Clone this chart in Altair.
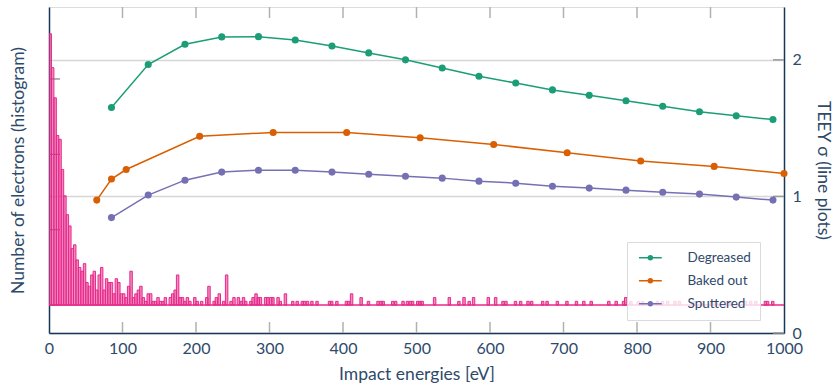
import altair as alt
import pandas as pd

# ---------------- data ----------------
BIN = 10 / 3  # histogram bin width (eV)

# dense part of the histogram: counts per bin starting at 0 eV
hist_dense = [72, 63, 55, 45, 44, 36, 29, 24, 21, 15, 16, 12, 10, 9, 11, 6, 5, 8, 9, 4,
              8, 10, 4, 7, 6, 6, 3, 7, 6, 3, 3, 2, 5, 9, 2, 3, 4, 5, 2, 1,
              3, 3, 1, 1, 2, 1, 1, 2, 0, 2, 3, 4, 8, 2, 2, 1, 2, 1, 0, 2]

# sparse part: bin start energy and count
sparse_E = [200, 206, 213, 216, 223, 226, 230, 236, 240, 246, 250, 256, 260, 263, 266, 273, 276,
            280, 283, 286, 293, 296, 300, 303, 310, 313, 320, 330, 336,
            343, 346, 350, 356, 363, 380, 383, 390, 403, 406, 410, 423, 433, 446, 450, 453,
            466, 470, 480, 486, 490, 493, 500, 503, 506, 523, 543, 556, 563, 570, 576, 596, 606,
            616, 620, 633, 640, 650, 655, 670, 676, 690, 703, 716, 726, 736, 760, 770, 780, 783,
            790, 800, 806, 826, 833, 840, 850, 856, 876, 886, 900, 906, 920, 926, 946, 953, 960,
            973, 976, 983]
sparse_n = [1, 1, 2, 5, 1, 2, 3, 1, 8, 1, 2, 2, 1, 2, 1, 1, 2,
            3, 2, 2, 2, 2, 2, 2, 2, 1, 3, 1, 1,
            1, 1, 1, 1, 1, 1, 1, 1, 1, 1, 3, 2, 1, 1, 1, 1,
            1, 1, 1, 1, 1, 1, 1, 1, 1, 2, 2, 1, 2, 1, 2, 2, 2,
            1, 1, 1, 1, 1, 1, 1, 1, 1, 1, 1, 1, 1, 1, 1, 1, 2,
            1, 1, 1, 1, 1, 1, 1, 1, 1, 1, 1, 1, 1, 1, 1, 1, 1,
            1, 1, 1]

series_names = ["Degreased", "Baked out", "Sputtered"]
series_colors = ["#1b9e77", "#d95f02", "#7570b3"]

degreased_E = [85, 135, 185, 235, 285, 335, 385, 435, 485, 535, 585, 635, 685, 735, 785, 835, 885, 935, 985]
degreased_s = [1.651, 1.966, 2.114, 2.168, 2.170, 2.146, 2.102, 2.051, 2.000, 1.941,
               1.88, 1.83, 1.78, 1.74, 1.70, 1.66, 1.62, 1.59, 1.563]

baked_E = [65, 85, 105, 205, 305, 405, 505, 605, 705, 805, 905, 1000]
baked_s = [0.973, 1.127, 1.197, 1.441, 1.468, 1.468, 1.429, 1.38, 1.32, 1.26, 1.22, 1.168]

sputtered_E = [85, 135, 185, 235, 285, 335, 385, 435, 485, 535, 585, 635, 685, 735, 785, 835, 885, 935, 985]
sputtered_s = [0.845, 1.010, 1.119, 1.178, 1.192, 1.192, 1.178, 1.163, 1.148, 1.134,
               1.112, 1.097, 1.075, 1.061, 1.046, 1.031, 1.017, 0.995, 0.973]

x_ticks = [100, 200, 300, 400, 500, 600, 700, 800, 900]
left_ticks = [0, 20, 40, 60]
right_ticks = [0, 1, 2]

# ---------------- tables ----------------
hist_rows = [{"e0": i * BIN, "e1": (i + 1) * BIN, "n": n} for i, n in enumerate(hist_dense) if n > 0]
hist_rows += [{"e0": e, "e1": e + BIN, "n": n} for e, n in zip(sparse_E, sparse_n)]
hist_df = pd.DataFrame(hist_rows)

line_rows = []
for name, E, S in [("Degreased", degreased_E, degreased_s),
                   ("Baked out", baked_E, baked_s),
                   ("Sputtered", sputtered_E, sputtered_s)]:
    for e, s in zip(E, S):
        line_rows.append({"series": name, "E": e, "sigma": s})
line_df = pd.DataFrame(line_rows)

xt_df = pd.DataFrame({"x": x_ticks})
lt_df = pd.DataFrame({"v": left_ticks})
rt_df = pd.DataFrame({"v": right_ticks})

# ---------------- style ----------------
W, H = 735, 326
FONT = "Lato"
TXT = "#2e4a6b"
FRAME = "#17375a"
PINK = "#e7298a"

xscale = alt.Scale(domain=[0, 1000], nice=False, zero=False)
lscale = alt.Scale(domain=[-7.4, 79.1], nice=False, zero=False)
rscale = alt.Scale(domain=[0, 2.387], nice=False, zero=False)

xaxis = alt.Axis(values=list(range(0, 1001, 100)), format="d", tickSize=0, labelPadding=7,
                 labelFontSize=16, labelColor=TXT, title="Impact energies [eV]", titleFontSize=17.5,
                 titleFontWeight="normal", titleColor=TXT, titlePadding=9, grid=False,
                 domainColor=FRAME, domainWidth=1.5, labelFlush=False)

laxis = alt.Axis(orient="left", labels=False, ticks=False, grid=False, domainColor=FRAME,
                 domainWidth=1.5, title="Number of electrons (histogram)", titleFontSize=17.5,
                 titleFontWeight="normal", titleColor=TXT, titlePadding=22)

raxis = alt.Axis(orient="right", values=right_ticks, tickSize=0, labelPadding=8, labelFontSize=16,
                 labelColor=TXT, grid=True, gridColor="#d6d6d6", gridWidth=1.5,
                 domainColor=FRAME, domainWidth=1.5, title="TEEY σ (line plots)",
                 titleFontSize=17.5, titleFontWeight="normal", titleColor=TXT, titlePadding=12)

# ---------------- left (histogram) layer ----------------
ltick = alt.Chart(lt_df).mark_rule(color="#666666", strokeWidth=1).encode(
    x=alt.value(0), x2=alt.value(11),
    y=alt.Y("v:Q", scale=lscale, axis=laxis))

bars = alt.Chart(hist_df).mark_rect(fill=PINK, fillOpacity=0.55, stroke=PINK, strokeWidth=1,
                                    clip=True).encode(
    x=alt.X("e0:Q", scale=xscale, axis=xaxis),
    x2="e1:Q",
    y=alt.Y("n:Q", scale=lscale, axis=laxis),
    y2=alt.datum(0))

baseline = alt.Chart(lt_df).transform_filter("datum.v == 0").mark_rule(
    color=PINK, strokeWidth=1.5).encode(
    x=alt.value(0), x2=alt.value(W),
    y=alt.Y("v:Q", scale=lscale, axis=laxis))

xtick = alt.Chart(xt_df).mark_rule(color="#b0b0b0", strokeWidth=1.5).encode(
    x=alt.X("x:Q", scale=xscale, axis=xaxis), y=alt.value(H - 11), y2=alt.value(H))
xtick_top = alt.Chart(xt_df).mark_rule(color="#b0b0b0", strokeWidth=1.5).encode(
    x=alt.X("x:Q", scale=xscale, axis=xaxis), y=alt.value(0), y2=alt.value(11))

left_layer = alt.layer(ltick, bars, baseline, xtick, xtick_top)

# ---------------- right (TEEY) layer ----------------
# legend symbol: a line 6 units wide with a dot in its middle (unit = sqrt(symbolSize))
PATH = "M-1,0L5,0M1.48,0A0.52,0.52 0 1,0 2.52,0A0.52,0.52 0 1,0 1.48,0Z"
cscale = alt.Scale(domain=series_names, range=series_colors)
legend = alt.Legend(title=None, orient="none", legendX=578, legendY=235,
                    symbolType=PATH, symbolSize=58, symbolStrokeWidth=1.5,
                    labelFontSize=13.5, labelColor=TXT, labelFont=FONT, labelOffset=38,
                    padding=9, fillColor="rgba(255,255,255,0.8)", strokeColor="#dadada",
                    rowPadding=8, labelLimit=200)

rtick = alt.Chart(rt_df).mark_rule(color="#999999", strokeWidth=1.5).encode(
    x=alt.value(W - 11), x2=alt.value(W),
    y=alt.Y("v:Q", scale=rscale, axis=raxis))

lines = alt.Chart(line_df).mark_line(strokeWidth=1.5).encode(
    x=alt.X("E:Q", scale=xscale, axis=xaxis),
    y=alt.Y("sigma:Q", scale=rscale, axis=raxis),
    stroke=alt.Stroke("series:N", scale=cscale, legend=legend, sort=series_names))

points = alt.Chart(line_df).mark_point(filled=True, size=50, opacity=1).encode(
    x=alt.X("E:Q", scale=xscale, axis=xaxis),
    y=alt.Y("sigma:Q", scale=rscale, axis=raxis),
    fill=alt.Fill("series:N", scale=cscale, legend=legend, sort=series_names))

right_layer = alt.layer(rtick, lines, points)

chart = alt.layer(left_layer, right_layer).resolve_scale(y="independent").properties(
    width=W, height=H,
    autosize=alt.AutoSizeParams(type="none"),
    padding={"left": 49, "top": 7, "right": 52, "bottom": 55},
).configure_view(stroke=FRAME, strokeWidth=1.5).configure(font=FONT, background="white")

chart.save("out.html", embed_options={"renderer": "svg", "actions": False})
